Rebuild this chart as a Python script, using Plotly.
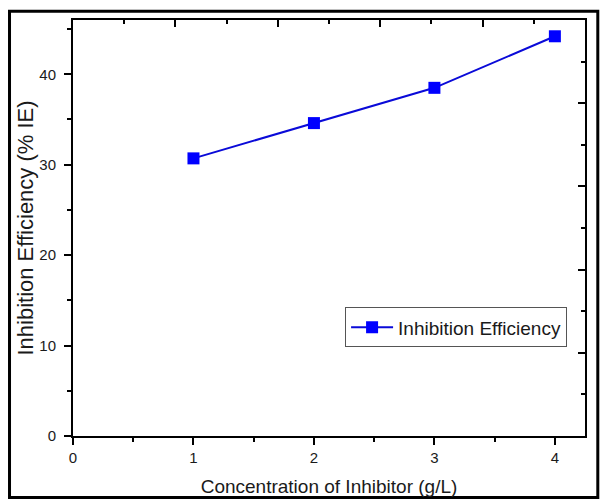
import plotly.graph_objects as go

concentration = [1, 2, 3, 4]
inhibition_eff = [30.7, 34.6, 38.5, 44.2]
series_name = "Inhibition Efficiency"
x_title = "Concentration of Inhibitor (g/L)"
y_title = "Inhibition Efficiency (% IE)"

FONT = "Arial, Liberation Sans, sans-serif"
TXT = "#1a1a1a"

fig = go.Figure()
fig.add_trace(go.Scatter(
    x=concentration, y=inhibition_eff, mode="lines+markers", name=series_name,
    line=dict(color="#0a0ad8", width=2),
    marker=dict(symbol="square", size=12, color="#0000ff"),
))
# invisible trace to activate top/right frame axes
fig.add_trace(go.Scatter(x=[None], y=[None], xaxis="x2", yaxis="y2",
                         showlegend=False, hoverinfo="skip"))

axis_common = dict(showgrid=False, zeroline=False, showline=True,
                   linecolor="black", linewidth=2, automargin=False)

fig.update_layout(
    width=600, height=500,
    margin=dict(l=73, r=15, t=20, b=64),
    paper_bgcolor="white", plot_bgcolor="white",
    font=dict(family=FONT, color=TXT, size=15),
    xaxis=dict(**axis_common, range=[0, 4.25], dtick=1, tick0=0,
               ticks="outside", ticklen=7, tickwidth=1.5, tickcolor="black",
               minor=dict(dtick=0.5, ticks="outside", ticklen=4, tickwidth=1.5, tickcolor="black"),
               tickfont=dict(size=15, family=FONT, color=TXT),
               title=dict(text=x_title, font=dict(size=19, family=FONT, color=TXT), standoff=15)),
    yaxis=dict(**axis_common, range=[0, 46], dtick=10, tick0=0,
               ticks="outside", ticklen=7, tickwidth=1.5, tickcolor="black",
               minor=dict(dtick=5, ticks="outside", ticklen=4, tickwidth=1.5, tickcolor="black"),
               tickfont=dict(size=15, family=FONT, color=TXT),
               ticklabelstandoff=5,
               title=dict(text=y_title, font=dict(size=22, family=FONT, color=TXT), standoff=0)),
    xaxis2=dict(**axis_common, overlaying="x", side="top", range=[0, 10], dtick=2, tick0=0,
                ticks="inside", ticklen=7, tickwidth=1.5, tickcolor="black", showticklabels=False,
                minor=dict(dtick=1, ticks="inside", ticklen=4, tickwidth=1.5, tickcolor="black")),
    yaxis2=dict(**axis_common, overlaying="y", side="right", range=[0, 10], dtick=2, tick0=0,
                ticks="inside", ticklen=7, tickwidth=1.5, tickcolor="black", showticklabels=False,
                minor=dict(dtick=1, ticks="inside", ticklen=4, tickwidth=1.5, tickcolor="black")),
    legend=dict(x=0.965, y=0.213, xanchor="right", yanchor="bottom",
                bgcolor="white", bordercolor="#555555", borderwidth=1,
                font=dict(size=19, family=FONT, color=TXT),
                itemwidth=42, tracegroupgap=0),
    showlegend=True,
)

# outer frame around the whole picture
fig.add_shape(type="rect", xref="paper", yref="paper",
              x0=-0.124, x1=1.025, y0=-0.148, y1=1.021,
              line=dict(color="black", width=3), fillcolor="rgba(0,0,0,0)", layer="above")

fig.write_html("out.html", config={"displayModeBar": False})

# remove the default page margin so the figure sits at the window origin
with open("out.html", "r", encoding="utf-8") as f:
    html = f.read()
html = html.replace("<head>", "<head><style>html,body{margin:0;padding:0;overflow:hidden;}</style>", 1)
with open("out.html", "w", encoding="utf-8") as f:
    f.write(html)
